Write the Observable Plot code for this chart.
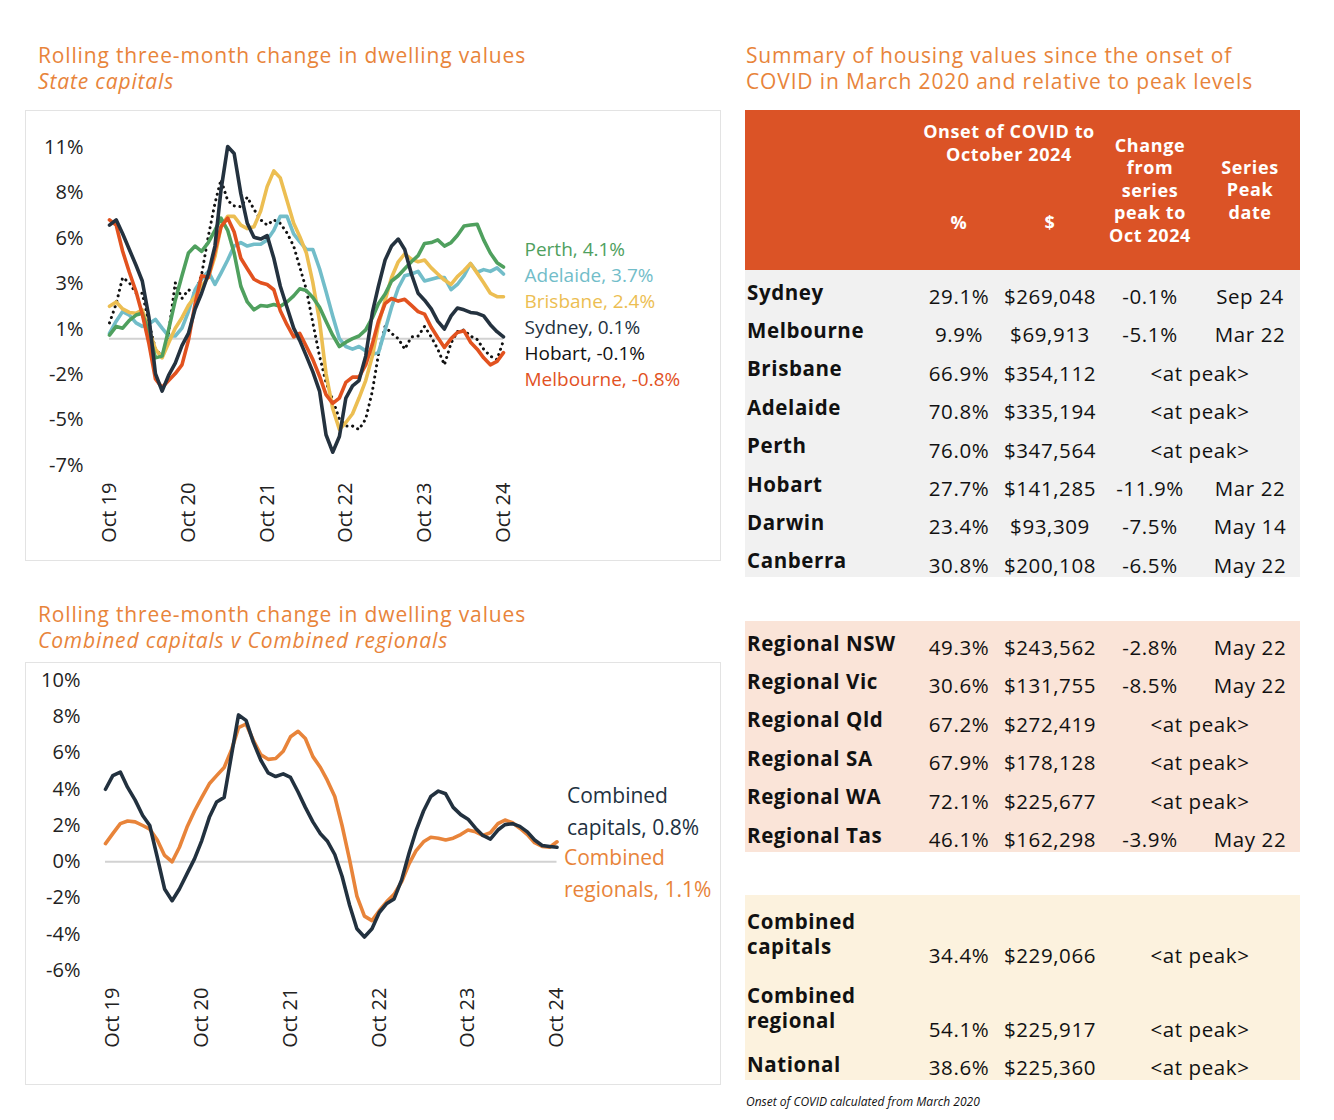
<!DOCTYPE html>
<html><head><meta charset="utf-8">
<script src="https://cdn.jsdelivr.net/npm/d3@7"></script>
<script src="https://cdn.jsdelivr.net/npm/@observablehq/plot@0.6"></script>
<style>
body{margin:0;background:#fff;font-family:"Open Sans",sans-serif;color:#111;}
#page{position:relative;width:1334px;height:1120px;overflow:hidden;background:#fff;}
.t{position:absolute;white-space:pre;}
.title{position:absolute;color:#E8843A;font-size:21px;letter-spacing:0.85px;line-height:26px;white-space:nowrap;}
.box{position:absolute;border:1px solid #e3e3e3;box-sizing:border-box;}
.chart{position:absolute;}
.bg{position:absolute;}
</style></head><body><div id="page">
<div class="title" style="left:38px;top:42px">Rolling three-month change in dwelling values<br><i>State capitals</i></div>
<div class="title" style="left:38px;top:601px">Rolling three-month change in dwelling values<br><i>Combined capitals v Combined regionals</i></div>
<div class="title" style="left:746px;top:42px">Summary of housing values since the onset of<br>COVID in March 2020 and relative to peak levels</div>
<div class="box" style="left:25px;top:110px;width:696px;height:451px"></div>
<div class="box" style="left:25px;top:662px;width:696px;height:423px"></div>
<div class="chart" id="top" style="left:25px;top:110px"></div>
<div class="chart" id="bottom" style="left:25px;top:662px"></div>
</div>
<script>
// ---------- chart data ----------
const topStart = new Date(Date.UTC(2019, 9, 1));   // Oct 2019
const bottomStart = new Date(Date.UTC(2019, 8, 1)); // Sep 2019
const end = new Date(Date.UTC(2024, 10, 1));
const xTickYears = [2019, 2020, 2021, 2022, 2023, 2024];
const xTickLabels = ["Oct 19", "Oct 20", "Oct 21", "Oct 22", "Oct 23", "Oct 24"];

const topCities = ["Adelaide", "Brisbane", "Perth", "Melbourne", "Sydney", "Hobart"];
const sydney = [6.5, 6.8, 6.0, 5.1, 4.2, 3.3, 1.2, -2.0, -3.0, -2.1,
  -1.4, -0.4, 0.3, 1.7, 2.6, 3.7, 5.3, 8.5, 11.0, 10.6,
  8.3, 6.6, 5.8, 5.7, 5.9, 4.6, 3.0, 1.8, 0.6, -0.1,
  -1.0, -1.9, -3.0, -5.5, -6.5, -5.6, -3.4, -2.7, -2.4, -1.0,
  1.5, 3.0, 4.5, 5.3, 5.7, 5.1, 3.7, 2.6, 2.2, 1.7,
  1.0, 0.55, 1.3, 1.75, 1.65, 1.5, 1.45, 1.3, 0.8, 0.4,
  0.1];
const melbourne = [6.8, 6.5, 5.0, 3.8, 2.7, 1.4, -0.3, -2.3, -2.8, -2.4,
  -2.0, -1.5, -0.1, 2.0, 3.6, 3.5, 5.0, 6.4, 6.9, 6.1,
  4.6, 4.0, 3.4, 3.2, 3.1, 2.8, 1.6, 0.8, 0.1, 0.3,
  -0.45, -1.2, -2.15, -3.2, -3.7, -3.4, -2.5, -2.2, -2.2, -1.5,
  -0.3, 1.0, 2.0, 2.3, 2.15, 2.25, 1.9, 1.55, 1.4, 0.65,
  0.07, -0.5, 0.0, 0.35, 0.45, -0.2, -0.6, -1.1, -1.5, -1.3,
  -0.8];
const brisbane = [1.85, 2.1, 1.7, 1.5, 1.45, 1.65, 0.5, -0.6, -1.1, -0.25,
  0.6, 1.2, 1.9, 2.4, 3.0, 3.5, 4.7, 6.4, 7.0, 7.0,
  6.5, 6.3, 6.4, 7.3, 8.7, 9.6, 9.2, 7.9, 6.6, 5.85,
  4.9, 3.2, 1.0, -2.0, -4.0, -5.2, -4.8, -4.3, -3.4, -2.4,
  -1.0, 0.8, 2.2, 3.5, 4.4, 4.85, 4.55, 4.4, 4.5, 4.05,
  3.7, 3.35, 3.1, 3.55, 3.9, 4.3, 3.75, 3.2, 2.6, 2.4,
  2.4];
const adelaide = [0.3, 1.0, 1.55, 1.35, 0.9, 0.7, 0.85, 1.1, 0.6, 0.15,
  0.15, 0.6, 1.55, 2.8, 3.4, 3.85, 3.1, 3.75, 4.5, 5.3,
  5.5, 5.3, 5.4, 5.4, 5.65, 6.2, 7.0, 7.0, 6.0, 5.55,
  5.1, 5.1, 4.0, 2.7, 1.3, 0.0, -0.45, -0.6, -0.45, -0.7,
  -0.9, -0.8, 0.5, 1.8, 2.9, 3.6, 3.7, 3.85, 3.3, 3.4,
  3.5, 3.5, 2.8, 3.1, 3.6, 4.3, 3.8, 3.95, 3.85, 4.05,
  3.7];
const perth = [0.2, 0.7, 0.6, 1.05, 1.35, 1.45, 0.3, -1.1, -1.0, 0.5,
  2.2, 3.6, 4.9, 5.3, 5.0, 5.5, 6.2, 6.9, 6.2, 4.9,
  3.0, 2.1, 1.65, 1.9, 1.85, 1.95, 1.85, 2.1, 2.45, 2.85,
  2.75, 2.35, 1.8, 1.0, 0.2, -0.45, -0.2, 0.0, 0.15, 0.5,
  1.2, 2.0, 2.55, 3.3, 3.6, 4.0, 4.4, 4.75, 5.45, 5.5,
  5.65, 5.3, 5.5, 5.9, 6.45, 6.5, 6.55, 5.65, 4.9, 4.35,
  4.1];
const hobart = [0.9, 2.0, 3.5, 3.2, 2.6, 2.6, 0.9, -0.6, -1.0, 0.3,
  3.2, 2.3, 2.8, 2.6, 3.65, 5.85, 7.75, 9.1, 7.9, 7.6,
  7.55, 8.1, 7.4, 6.8, 6.5, 6.8, 6.6, 6.05, 5.3, 4.1,
  2.8, 0.9, -1.0, -2.5, -3.5, -4.6, -5.0, -5.0, -5.2, -4.6,
  -3.0, -0.9, 0.7, 0.3, 0.0, -0.6, 0.1, 0.15, 0.7, 0.1,
  -0.6, -1.5, -0.25, 0.4, 0.5, 0.15, -0.05, -0.6, -1.0, -1.2,
  -0.1];
const topValues = {Adelaide: adelaide, Brisbane: brisbane, Perth: perth, Melbourne: melbourne, Sydney: sydney, Hobart: hobart};
const topTickLabels = ["-7%", "-5%", "-2%", "1%", "3%", "6%", "8%", "11%"];
const topAxisMin = -7.26, topAxisStep = 2.6;

const bottomSeriesNames = ["Combined regionals", "Combined capitals"];
const combinedCapitals = [4.0, 4.75, 4.95, 4.1, 3.4, 2.55, 2.0, 0.25, -1.5, -2.15,
  -1.5, -0.67, 0.16, 1.17, 2.45, 3.3, 3.55, 5.95, 8.1, 7.8,
  6.6, 5.6, 4.9, 4.7, 4.85, 4.65, 3.85, 3.0, 2.2, 1.55,
  1.15, 0.4, -0.8, -2.4, -3.7, -4.15, -3.7, -2.8, -2.3, -2.05,
  -1.0, 0.5, 1.7, 2.8, 3.6, 3.9, 3.75, 3.0, 2.6, 2.35,
  1.85, 1.45, 1.25, 1.75, 2.05, 2.1, 1.95, 1.65, 1.2, 0.9,
  0.84, 0.8];
const combinedRegionals = [1.0, 1.55, 2.1, 2.25, 2.2, 2.0, 1.8, 1.2, 0.35, 0.0,
  0.8, 1.9, 2.8, 3.55, 4.3, 4.75, 5.2, 6.2, 7.4, 7.6,
  6.7, 5.9, 5.65, 5.7, 6.1, 6.9, 7.2, 6.8, 5.8, 5.2,
  4.5, 3.6, 2.0, 0.1, -1.9, -3.0, -3.25, -2.7, -2.2, -1.8,
  -1.1, -0.1, 0.6, 1.1, 1.35, 1.3, 1.2, 1.3, 1.5, 1.75,
  1.65, 1.45, 1.6, 2.1, 2.3, 2.15, 1.85, 1.5, 1.05, 0.85,
  0.8, 1.1];
const bottomTickLabels = ["-6%", "-4%", "-2%", "0%", "2%", "4%", "6%", "8%", "10%"];
const bottomTickValues = [-6, -4, -2, 0, 2, 4, 6, 8, 10];

// ---------- table data ----------
const capitalNames = ["Sydney", "Melbourne", "Brisbane", "Adelaide", "Perth", "Hobart", "Darwin", "Canberra"];
const capitalPct = ["29.1%", "9.9%", "66.9%", "70.8%", "76.0%", "27.7%", "23.4%", "30.8%"];
const capitalDollar = ["$269,048", "$69,913", "$354,112", "$335,194", "$347,564", "$141,285", "$93,309", "$200,108"];
const capitalFromPeak = ["-0.1%", "-5.1%", null, null, null, "-11.9%", "-7.5%", "-6.5%"];
const capitalPeakDate = ["Sep 24", "Mar 22", null, null, null, "Mar 22", "May 14", "May 22"];

const regionalNames = ["Regional NSW", "Regional Vic", "Regional Qld", "Regional SA", "Regional WA", "Regional Tas"];
const regionalPct = ["49.3%", "30.6%", "67.2%", "67.9%", "72.1%", "46.1%"];
const regionalDollar = ["$243,562", "$131,755", "$272,419", "$178,128", "$225,677", "$162,298"];
const regionalFromPeak = ["-2.8%", "-8.5%", null, null, null, "-3.9%"];
const regionalPeakDate = ["May 22", "May 22", null, null, null, "May 22"];

const aggregateNames = ["Combined\ncapitals", "Combined\nregional", "National"];
const aggregatePct = ["34.4%", "54.1%", "38.6%"];
const aggregateDollar = ["$229,066", "$225,917", "$225,360"];
const aggregateFromPeak = [null, null, null];
const aggregatePeakDate = [null, null, null];

// ---------- styles ----------
const topColors = {Adelaide: "#72BDC9", Brisbane: "#ECBE52", Perth: "#4FA05E", Melbourne: "#E2521F", Sydney: "#24323F", Hobart: "#111111"};
const bottomColors = {"Combined regionals": "#E8843A", "Combined capitals": "#22313F"};
const FONT = "'Open Sans', sans-serif";

// ---------- top chart ----------
const topDates = d3.utcMonth.range(topStart, end);
const topRows = topCities.flatMap(c => topValues[c].map((v, i) => ({city: c, date: topDates[i], value: v})));
const topTicks = topTickLabels.map((_, i) => topAxisMin + i * topAxisStep);
const xTicks = xTickYears.map(y => new Date(Date.UTC(y, 9, 1)));
const fmtX = d => xTickLabels[xTickYears.indexOf(d.getUTCFullYear())];

function dodge(vals, gap) {
  const items = vals.map((v, i) => ({i, v})).sort((a, b) => b.v - a.v);
  let clusters = items.map(it => ({items: [it], center: it.v}));
  let merged = true;
  while (merged) {
    merged = false;
    for (let k = 0; k < clusters.length - 1; k++) {
      const a = clusters[k], b = clusters[k + 1];
      const aLow = a.center - gap * (a.items.length - 1) / 2;
      const bHigh = b.center + gap * (b.items.length - 1) / 2;
      if (aLow - bHigh < gap) {
        const its = a.items.concat(b.items);
        clusters.splice(k, 2, {items: its, center: d3.mean(its, d => d.v)});
        merged = true; break;
      }
    }
  }
  const out = [];
  clusters.forEach(c => c.items.forEach((it, j) => out[it.i] = c.center + gap * ((c.items.length - 1) / 2 - j)));
  return out;
}
const lastVals = topCities.map(c => topValues[c][topValues[c].length - 1]);
const labelY = dodge(lastVals, 1.49);
const topLabels = topCities.map((c, i) => ({city: c, date: topDates[topDates.length - 1], y: labelY[i],
  label: `${c}, ${lastVals[i].toFixed(1)}%`}));

const topPlot = Plot.plot({
  width: 695, height: 450,
  marginLeft: 84, marginRight: 217, marginTop: 37, marginBottom: 95,
  style: {fontFamily: FONT, fontSize: "20px", color: "#222", background: "transparent", overflow: "visible"},
  x: {type: "utc", domain: [topDates[0], topDates[topDates.length - 1]], ticks: xTicks, tickFormat: fmtX,
      tickRotate: -90, tickSize: 0, tickPadding: 17, label: null},
  y: {domain: [topTicks[0], topTicks[topTicks.length - 1]], ticks: topTicks,
      tickFormat: d => topTickLabels[topTicks.indexOf(d)], tickSize: 0, tickPadding: 26, label: null},
  color: {domain: topCities, range: topCities.map(c => topColors[c])},
  marks: [
    Plot.ruleY([0], {stroke: "#d2d2d2", strokeWidth: 2}),
    Plot.line(topRows.filter(d => d.city === "Hobart"), {x: "date", y: "value", stroke: "city",
      strokeWidth: 3, strokeDasharray: "0.1 5.6", strokeLinecap: "round"}),
    Plot.line(topRows.filter(d => d.city !== "Hobart"), {x: "date", y: "value", z: "city", stroke: "city",
      strokeWidth: 3.6, strokeLinejoin: "round"}),
    Plot.text(topLabels, {x: "date", y: "y", text: "label", fill: "city", dx: 21, dy: 4, textAnchor: "start", fontSize: 19})
  ]
});
document.getElementById("top").appendChild(topPlot);

// ---------- bottom chart ----------
const bottomDates = d3.utcMonth.range(bottomStart, end);
const bottomValues = {"Combined regionals": combinedRegionals, "Combined capitals": combinedCapitals};
const bottomRows = bottomSeriesNames.flatMap(s => bottomValues[s].map((v, i) => ({series: s, date: bottomDates[i], value: v})));
const lastB = bottomDates[bottomDates.length - 1];
const capLast = combinedCapitals[combinedCapitals.length - 1];
const regLast = combinedRegionals[combinedRegionals.length - 1];

const bottomPlot = Plot.plot({
  width: 695, height: 422,
  marginLeft: 80, marginRight: 163.5, marginTop: 18, marginBottom: 114,
  style: {fontFamily: FONT, fontSize: "20px", color: "#222", background: "transparent", overflow: "visible"},
  x: {type: "utc", domain: [bottomDates[0], lastB], ticks: xTicks, tickFormat: fmtX,
      tickRotate: -90, tickSize: 0, tickPadding: 17, label: null},
  y: {domain: [-6, 10], ticks: bottomTickValues, tickFormat: d => bottomTickLabels[bottomTickValues.indexOf(d)],
      tickSize: 0, tickPadding: 25, label: null},
  color: {domain: bottomSeriesNames, range: bottomSeriesNames.map(s => bottomColors[s])},
  marks: [
    Plot.ruleY([0], {stroke: "#d2d2d2", strokeWidth: 2}),
    Plot.line(bottomRows, {x: "date", y: "value", z: "series", stroke: "series", strokeWidth: 3.6, strokeLinejoin: "round"}),
    Plot.text([{series: "Combined capitals", date: lastB, y: capLast}], {x: "date", y: "y", fill: "series",
      text: d => `Combined\ncapitals, ${capLast.toFixed(1)}%`, lineAnchor: "bottom", lineHeight: 1.52,
      dx: 10, dy: -12, textAnchor: "start", fontSize: 21}),
    Plot.text([{series: "Combined regionals", date: lastB, y: regLast}], {x: "date", y: "y", fill: "series",
      text: d => `Combined\nregionals, ${regLast.toFixed(1)}%`, lineAnchor: "top", lineHeight: 1.52,
      dx: 7, dy: 1, textAnchor: "start", fontSize: 21})
  ]
});
document.getElementById("bottom").appendChild(bottomPlot);

// ---------- table ----------
const page = document.getElementById("page");
function bg(left, top, w, h, color) {
  const d = document.createElement("div");
  d.className = "bg";
  Object.assign(d.style, {left: left + "px", top: top + "px", width: w + "px", height: h + "px", background: color});
  page.appendChild(d);
}
function txt(s, x, y, o = {}) {
  const lh = o.lh || 26, w = o.w || 200;
  const d = document.createElement("div");
  d.className = "t";
  d.textContent = s;
  Object.assign(d.style, {fontSize: (o.size || 20) + "px", fontWeight: o.weight || 400, color: o.color || "#111",
    lineHeight: lh + "px", top: (y - lh / 2) + "px", fontStyle: o.style || "normal",
    letterSpacing: (o.ls || 0) + "px"});
  if (o.align === "left") d.style.left = x + "px";
  else { d.style.left = (x - w / 2) + "px"; d.style.width = w + "px"; d.style.textAlign = "center"; }
  page.appendChild(d);
}
const TL = 745, TW = 555;
bg(TL, 110, TW, 160, "#DB5326");
bg(TL, 270, TW, 307, "#F1F1F1");
bg(TL, 621, TW, 231, "#FAE4D8");
bg(TL, 895, TW, 185, "#FCF2DE");

const H = {color: "#fff", weight: 700, size: 18, lh: 22.5, ls: 0.6};
txt("Onset of COVID to\nOctober 2024", 1009, 131, {...H, lh: 23});
txt("%", 959, 222, H);
txt("$", 1050, 222, H);
txt("Change\nfrom\nseries\npeak to\nOct 2024", 1150, 145, H);
txt("Series\nPeak\ndate", 1250, 167, H);

const colPct = 959, colDollar = 1050, colPeak = 1150, colDate = 1250, colAtPeak = 1200;
const V = {size: 20.5, ls: 0.6};
function rowCells(name, pct, dollar, fromPeak, peakDate, yLabel, yVal) {
  txt(name, 747, yLabel, {align: "left", weight: 700, size: 20.5, ls: 0.6, lh: 25});
  txt(pct, colPct, yVal, V);
  txt(dollar, colDollar, yVal, V);
  if (fromPeak == null) txt("<at peak>", colAtPeak, yVal, V);
  else { txt(fromPeak, colPeak, yVal, V); txt(peakDate, colDate, yVal, V); }
}
capitalNames.forEach((n, i) => rowCells(n, capitalPct[i], capitalDollar[i], capitalFromPeak[i], capitalPeakDate[i], 292 + i * 38.4, 296 + i * 38.4));
regionalNames.forEach((n, i) => rowCells(n, regionalPct[i], regionalDollar[i], regionalFromPeak[i], regionalPeakDate[i], 643 + i * 38.4, 647 + i * 38.4));
const aggLabelY = [921, 995, 1064], aggValY = [955, 1029, 1067];
aggregateNames.forEach((n, i) => rowCells(n, aggregatePct[i], aggregateDollar[i], aggregateFromPeak[i], aggregatePeakDate[i], aggLabelY[i], aggValY[i]));

txt("Onset of COVID calculated from March 2020", 746, 1102, {align: "left", size: 12, style: "italic", lh: 14});
</script>
</body></html>
